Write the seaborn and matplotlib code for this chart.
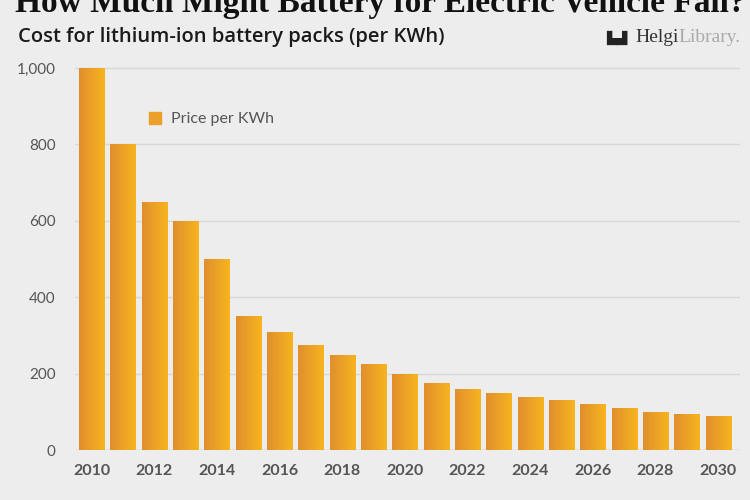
import numpy as np
import pandas as pd
import matplotlib
matplotlib.use("Agg")
import matplotlib.pyplot as plt
import seaborn as sns
from matplotlib.colors import LinearSegmentedColormap

years = [str(y) for y in range(2010, 2031)]
price = [1000, 800, 650, 600, 500, 350, 310, 275, 250, 225, 200,
         175, 160, 150, 140, 130, 120, 110, 100, 95, 90]
tick_labels = [str(y) for y in range(2010, 2031, 2)]
yticks = [0, 200, 400, 600, 800, 1000]

title = "How Much Might Battery for Electric Vehicle Fall?"
subtitle = "Cost for lithium-ion battery packs (per KWh)"
legend_label = "Price per KWh"

bg = "#eeeded"
sns.set_theme(style="white")
plt.rcParams['font.family'] = ['Lato', 'DejaVu Sans']

df = pd.DataFrame({"year": years, "price": price})

fig = plt.figure(figsize=(7.5, 5), dpi=100, facecolor=bg)
ax = fig.add_axes([75/750, 0.1, 665/750, 0.78])
ax.set_facecolor(bg)

sns.barplot(data=df, x="year", y="price", color="#eba02a", width=0.8,
            ax=ax, saturation=1, zorder=3)

# gradient fill for each bar
cmap = LinearSegmentedColormap.from_list("g", ["#e18f2d", "#f7b41f"])
grad = np.linspace(0, 1, 64).reshape(1, -1)
for p in ax.patches:
    x0, y0 = p.get_x(), p.get_y()
    w, h = p.get_width(), p.get_height()
    p.set_facecolor("none")
    p.set_edgecolor("none")
    im = ax.imshow(grad, cmap=cmap, extent=[x0, x0 + w, y0, y0 + h],
                   aspect="auto", zorder=3.5, interpolation="bicubic")
    im.set_clip_path(p)
ax.set_xlim(-0.53, 20.7)
ax.set_ylim(0, 1021)

ax.set_yticks(yticks)
ax.set_yticklabels([f"{v:,}" for v in yticks], fontsize=11, color="#555555")
ax.set_xticks([years.index(t) for t in tick_labels])
ax.set_xticklabels(tick_labels, fontsize=11.5, fontweight="bold", color="#555555")
ax.tick_params(axis="y", length=0, pad=14)
ax.tick_params(axis="x", length=0, pad=10)
ax.set_xlabel("")
ax.set_ylabel("")
ax.grid(axis="y", color="#d9d8d8", linewidth=1, zorder=0)
ax.set_axisbelow(True)
for s in ax.spines.values():
    s.set_visible(False)
ax.axhline(0, color="#d0cfcf", linewidth=1, zorder=2)

# legend
ax.scatter([], [], marker="s", color="#eba02a", label=legend_label)
leg = ax.legend(loc="upper left", bbox_to_anchor=(0.075, 0.905), frameon=False,
                handletextpad=0.0, markerscale=1.5, prop={"size": 11.5})
for t in leg.get_texts():
    t.set_color("#555555")

# titles
fig.text(0.02, 1 - 12/500, title, fontsize=24, fontweight="bold",
         family=["Liberation Serif", "DejaVu Serif"], color="#111111", va="baseline")
fig.text(0.024, 1 - 37/500, subtitle, fontsize=14.5, fontweight="semibold",
         family=["Open Sans", "DejaVu Sans"], color="#1a1a1a", va="center")

# logo
fig.text(0.808, 1 - 38/500, "\u2599\u259f", fontsize=10, color="#222222",
         va="center", family=["DejaVu Sans"])
helgi = fig.text(0.847, 1 - 37/500, "Helgi", fontsize=14,
                 family=["Liberation Serif", "DejaVu Serif"], color="#333333",
                 va="center")
fig.canvas.draw()
bb = helgi.get_window_extent()
fig.text(bb.x1 / fig.bbox.width, 1 - 37/500, "Library.", fontsize=14,
         family=["Liberation Serif", "DejaVu Serif"], color="#aaaaaa", va="center")

fig.savefig("out.png", dpi=100, facecolor=bg)
